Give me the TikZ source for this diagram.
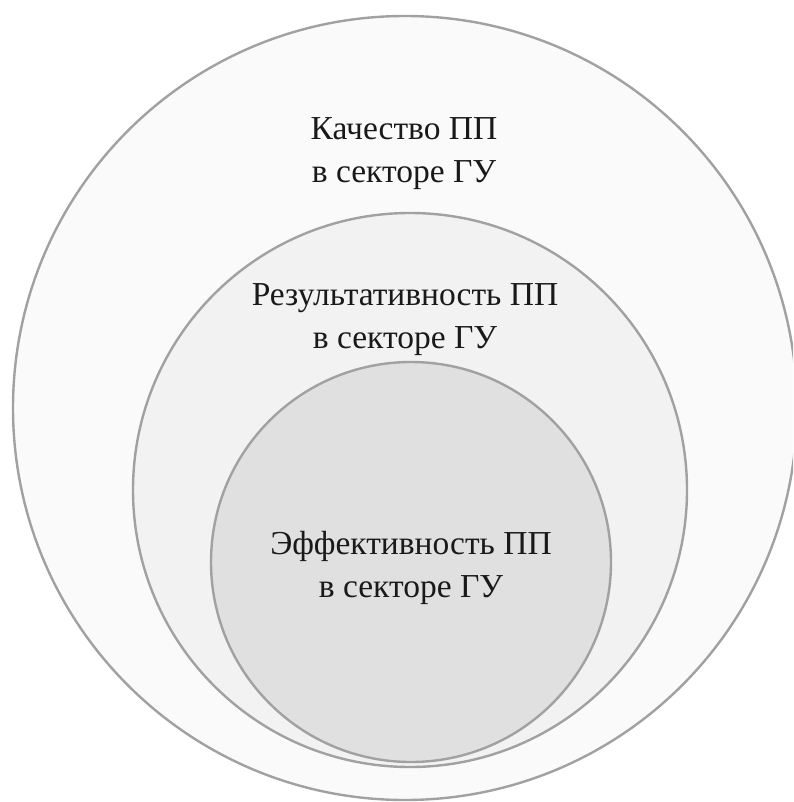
\documentclass[tikz,border=0pt]{standalone}
\usepackage{fontspec}
\setmainfont{Liberation Serif}
\tikzset{
  ring/.style={draw=black!37, line width=2.4pt},
  caption/.style={align=center, font=\fontsize{33.5}{43}\selectfont, text=black!90, inner sep=0pt}
}
\begin{document}
\begin{tikzpicture}[x=1pt,y=-1pt]
  \useasboundingbox (0,0) rectangle (793,802);
  \fill[white] (0,0) rectangle (793,802);
  \clip (0,0) rectangle (793,802);
  % nested circles
  \filldraw[ring, fill=black!2] (405,408) circle (392);
  \filldraw[ring, fill=black!5] (410,490) circle (277);
  \filldraw[ring, fill=black!12] (411,562) circle (200);
  % labels
  \node[caption] (quality) at (404,154) {Качество ПП\\в секторе ГУ};
  \node[caption] (result) at (405,320) {Результативность ПП\\в секторе ГУ};
  \node[caption] (effect) at (411,568) {Эффективность ПП\\в секторе ГУ};
\end{tikzpicture}
\end{document}
